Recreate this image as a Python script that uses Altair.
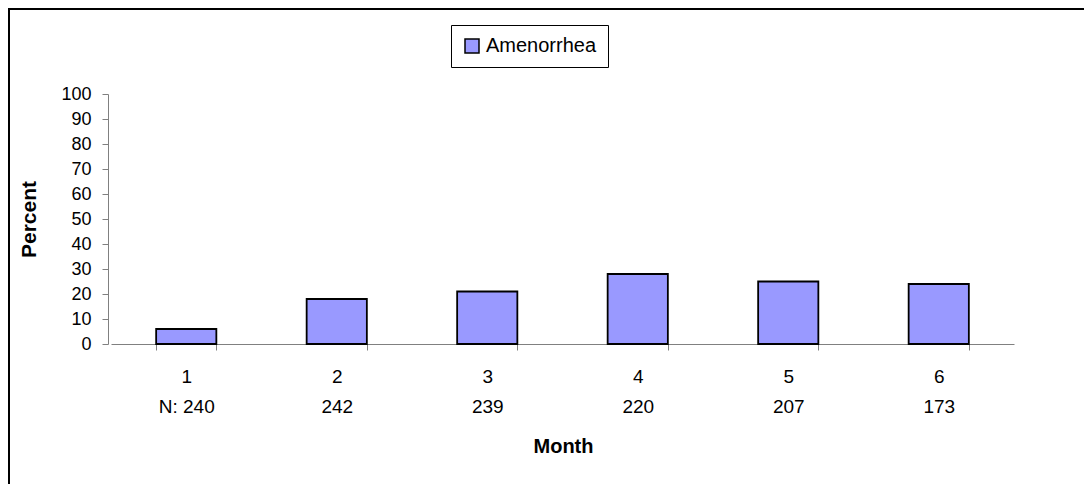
import altair as alt
import pandas as pd

# Data
months = ["1", "2", "3", "4", "5", "6"]
n_labels = ["N: 240", "242", "239", "220", "207", "173"]
percents = [6, 18, 21, 28, 25, 24]
series = ["Amenorrhea"] * 6

df = pd.DataFrame({
    "label": [f"{m}|{n}" for m, n in zip(months, n_labels)],
    "Percent": percents,
    "series": series,
})

W, H = 1076, 476
FONT = "Liberation Sans"

bars = alt.Chart(df).mark_bar(
    stroke="black", strokeWidth=1.8, fill="#9999FF"
).encode(
    x=alt.X(
        "label:N", sort=None,
        scale=alt.Scale(range=[103, 1006], paddingInner=0.6, paddingOuter=0.3),
        axis=alt.Axis(
            title="Month", labelExpr="split(datum.label, '|')", labelAngle=0,
            labelFontSize=19, labelLineHeight=30, labelBaseline="alphabetic",
            labelPadding=32, tickSize=6, tickBand="extent",
            domainColor="#808080", tickColor="#808080", labelColor="black",
            offset=336 - H,
            titleFontSize=20, titleFontWeight="bold", titleX=555, titleY=108,
            titleAlign="center", titleBaseline="alphabetic",
        ),
    ),
    y=alt.Y(
        "Percent:Q",
        scale=alt.Scale(domain=[0, 100], range=[336, 86], nice=False, zero=True),
        axis=alt.Axis(
            title="Percent", values=list(range(0, 101, 10)), grid=False,
            labelFontSize=18, labelPadding=11, tickSize=6,
            domainColor="#808080", tickColor="#808080", labelColor="black",
            offset=-100,
            titleFontSize=21, titleFontWeight="bold", titleX=-73, titleY=211,
            titleAngle=270, titleAlign="center", titleBaseline="alphabetic",
        ),
    ),
    color=alt.Color(
        "series:N",
        scale=alt.Scale(range=["#9999FF"]),
        legend=alt.Legend(
            title=None, orient="none", legendX=443, legendY=17,
            symbolType="square", symbolSize=196, symbolStrokeColor="black",
            symbolStrokeWidth=1.5, symbolFillColor="#9999FF",
            labelFontSize=20, labelColor="black", labelOffset=4,
            strokeColor="black", fillColor="white", padding=11,
        ),
    ),
)

frame_top = alt.Chart(df).mark_rule(color="black", strokeWidth=2).encode(
    x=alt.value(0), x2=alt.value(W), y=alt.value(1)
)
frame_left = alt.Chart(df).mark_rule(color="black", strokeWidth=2).encode(
    x=alt.value(1), y=alt.value(0), y2=alt.value(H)
)

chart = alt.layer(bars, frame_top, frame_left).properties(
    width=W, height=H, autosize=alt.AutoSizeParams(type="none"), padding=0,
    background="white",
).configure_view(stroke=None).configure(
    font=FONT
).configure_axis(labelFont=FONT, titleFont=FONT).configure_legend(labelFont=FONT)

chart.save("out.html", embed_options={"renderer": "svg", "actions": False})
